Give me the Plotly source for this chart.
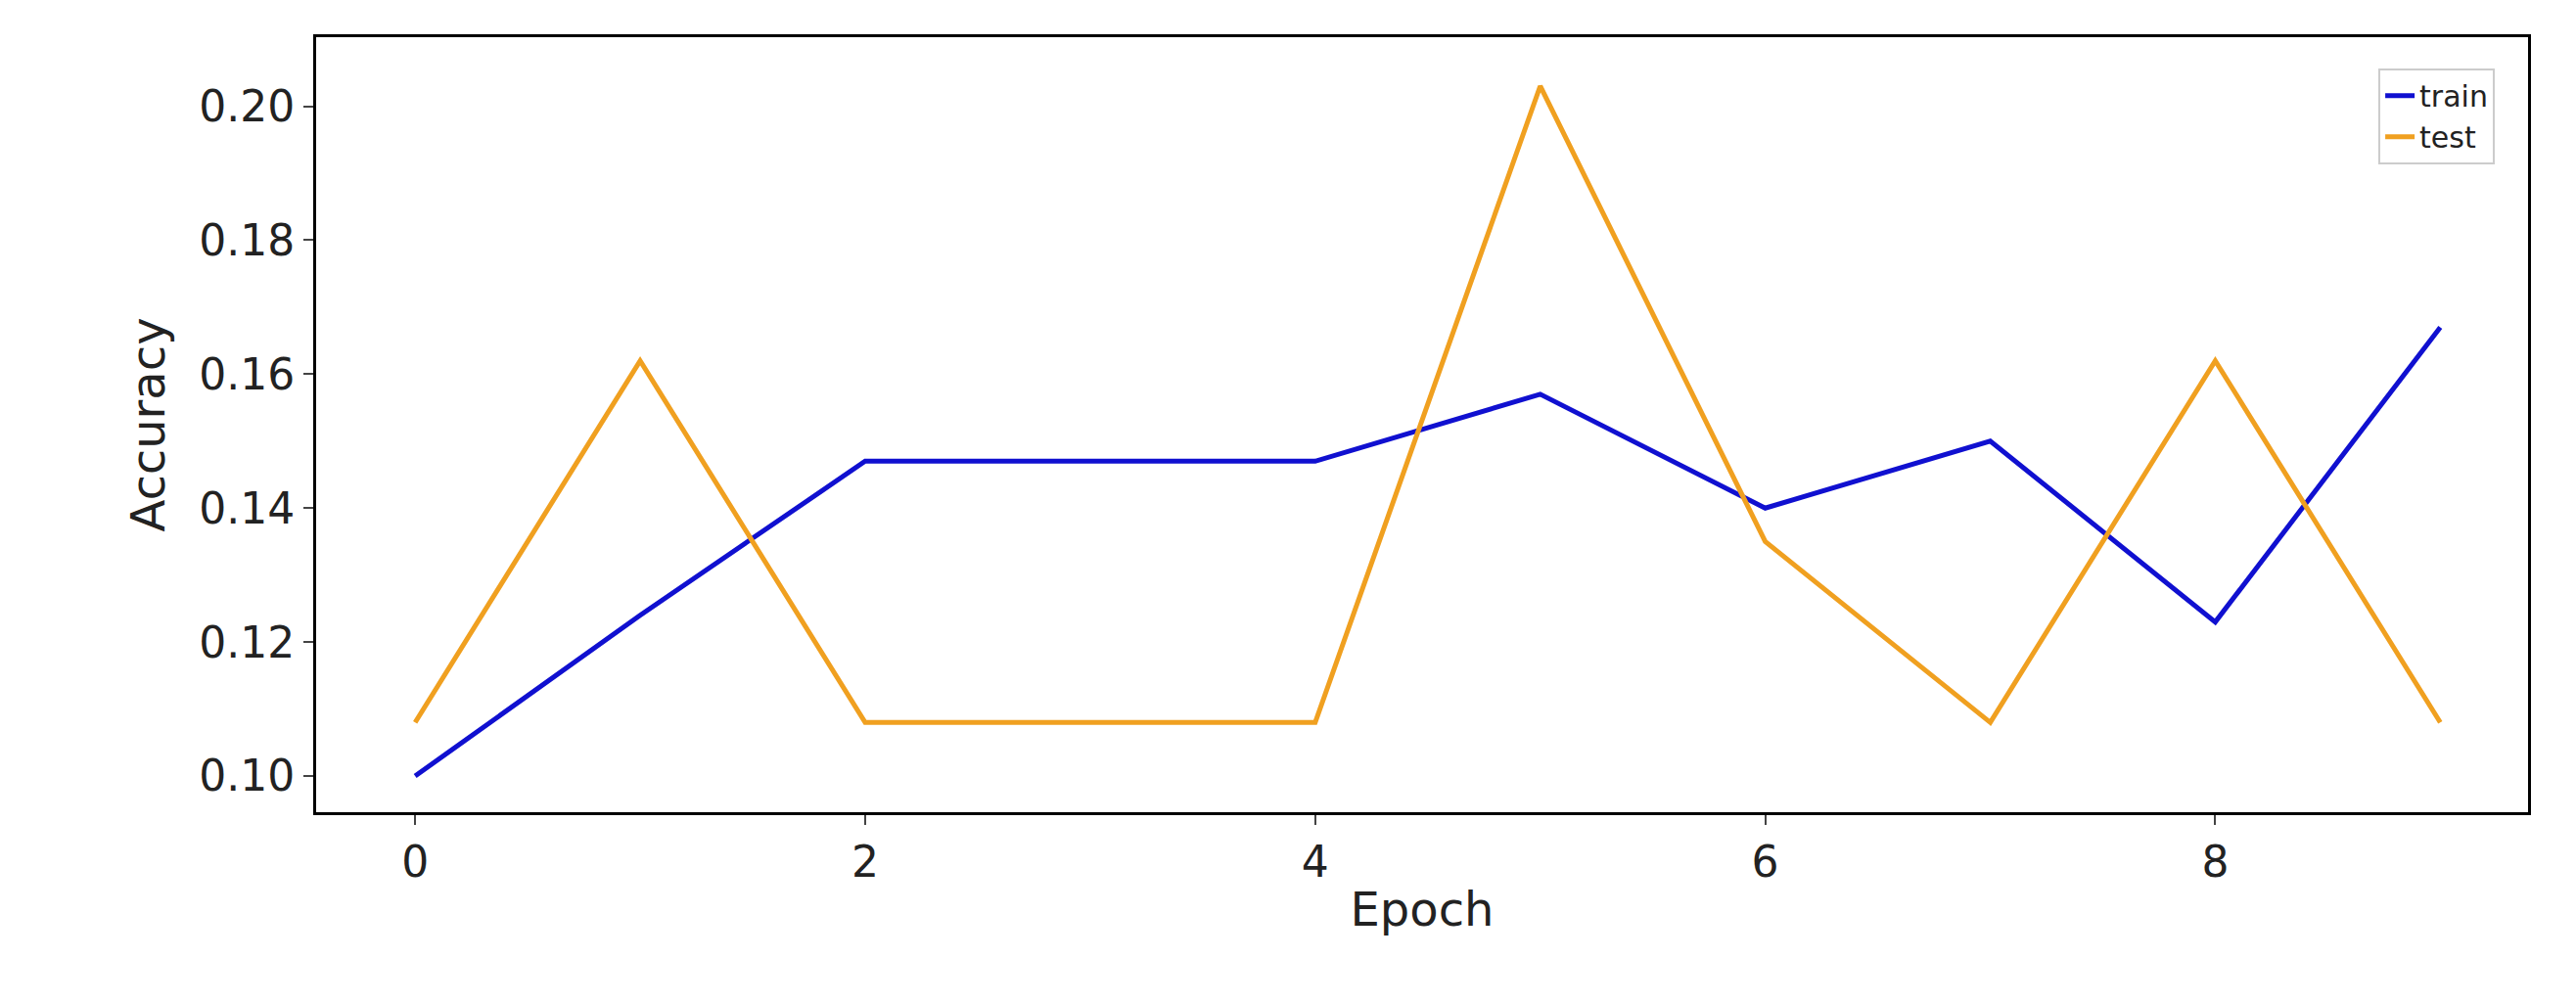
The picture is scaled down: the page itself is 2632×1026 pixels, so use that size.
import plotly.graph_objects as go

epochs = list(range(10))
train = [0.100, 0.124, 0.147, 0.147, 0.147, 0.157, 0.140, 0.150, 0.123, 0.167]
test = [0.108, 0.162, 0.108, 0.108, 0.108, 0.203, 0.135, 0.108, 0.162, 0.108]

fig = go.Figure()
fig.add_trace(go.Scatter(x=epochs, y=train, mode="lines", name="train",
                         line=dict(color="#1010d0", width=5)))
fig.add_trace(go.Scatter(x=epochs, y=test, mode="lines", name="test",
                         line=dict(color="#f0a020", width=5)))
fig.update_layout(
    width=2632, height=1026, paper_bgcolor="white", plot_bgcolor="white",
    margin=dict(l=315, r=57, t=30, b=204),
    font=dict(family="DejaVu Sans", color="#222", size=44),
    legend=dict(x=0.985, y=0.96, xanchor="right", yanchor="top",
                bordercolor="#ccc", borderwidth=2, font=dict(size=30)),
    showlegend=True,
)
fig.update_xaxes(range=[-0.44, 9.39], tickvals=[0, 2, 4, 6, 8],
                 showgrid=False, zeroline=False, showline=True, mirror=True,
                 linecolor="black", linewidth=3, ticks="outside", ticklen=10, tickwidth=2,
                 title=dict(text="Epoch", font=dict(size=48), standoff=8))
fig.update_yaxes(range=[0.0946, 0.2103], tickvals=[0.10, 0.12, 0.14, 0.16, 0.18, 0.20],
                 tickformat=".2f", showgrid=False, zeroline=False, showline=True, mirror=True,
                 linecolor="black", linewidth=3, ticks="outside", ticklen=10, tickwidth=2,
                 title=dict(text="Accuracy", font=dict(size=48), standoff=20))
fig.write_html("out.html")
